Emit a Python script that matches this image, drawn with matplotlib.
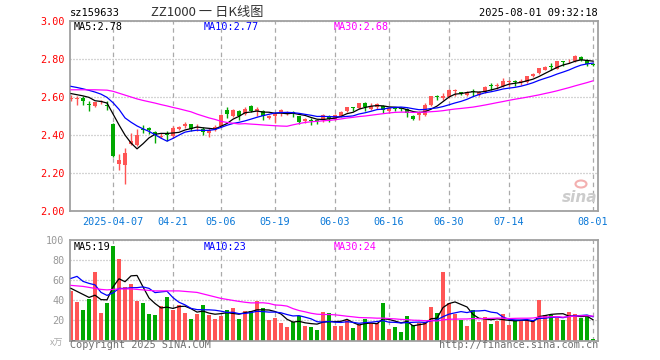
import numpy as np
import pandas as pd
import matplotlib
matplotlib.use('Agg')
import matplotlib.pyplot as plt
from matplotlib.patches import Ellipse

# daily bars, 2025-03-26 .. 2025-08-01 (88 trading days)
opens = [2.592, 2.592, 2.595, 2.562, 2.555, 2.575, 2.558, 2.460, 2.245, 2.240,
         2.355, 2.350, 2.430, 2.435, 2.415, 2.390, 2.400, 2.393, 2.432, 2.445,
         2.458, 2.435, 2.432, 2.412, 2.425, 2.445, 2.533, 2.502, 2.528, 2.512,
         2.555, 2.525, 2.525, 2.490, 2.498, 2.516, 2.510, 2.518, 2.498, 2.474,
         2.480, 2.478, 2.478, 2.502, 2.486, 2.498, 2.525, 2.545, 2.540, 2.568,
         2.538, 2.548, 2.555, 2.526, 2.542, 2.540, 2.537, 2.498, 2.504, 2.507,
         2.560, 2.602, 2.595, 2.600, 2.632, 2.622, 2.612, 2.628, 2.612, 2.625,
         2.662, 2.660, 2.656, 2.677, 2.680, 2.677, 2.679, 2.709, 2.726, 2.744,
         2.763, 2.748, 2.790, 2.787, 2.788, 2.810, 2.795, 2.775]
highs = [2.612, 2.605, 2.604, 2.577, 2.575, 2.585, 2.577, 2.465, 2.300, 2.330,
         2.410, 2.430, 2.454, 2.440, 2.420, 2.410, 2.420, 2.445, 2.445, 2.470,
         2.460, 2.460, 2.440, 2.435, 2.455, 2.510, 2.548, 2.535, 2.530, 2.545,
         2.560, 2.550, 2.530, 2.505, 2.515, 2.535, 2.525, 2.525, 2.500, 2.490,
         2.490, 2.485, 2.510, 2.505, 2.510, 2.525, 2.550, 2.548, 2.570, 2.572,
         2.568, 2.570, 2.560, 2.548, 2.550, 2.545, 2.540, 2.505, 2.525, 2.568,
         2.605, 2.612, 2.620, 2.640, 2.640, 2.628, 2.630, 2.642, 2.630, 2.658,
         2.674, 2.674, 2.700, 2.688, 2.690, 2.695, 2.710, 2.728, 2.755, 2.762,
         2.779, 2.790, 2.792, 2.800, 2.820, 2.815, 2.800, 2.780]
lows = [2.578, 2.560, 2.560, 2.525, 2.550, 2.565, 2.530, 2.286, 2.215, 2.140,
        2.345, 2.340, 2.410, 2.405, 2.360, 2.385, 2.370, 2.385, 2.428, 2.435,
        2.420, 2.420, 2.400, 2.390, 2.420, 2.440, 2.490, 2.495, 2.480, 2.505,
        2.520, 2.502, 2.480, 2.485, 2.465, 2.500, 2.505, 2.495, 2.460, 2.465,
        2.455, 2.460, 2.470, 2.470, 2.478, 2.495, 2.520, 2.525, 2.535, 2.525,
        2.533, 2.535, 2.515, 2.515, 2.525, 2.525, 2.495, 2.477, 2.477, 2.498,
        2.555, 2.585, 2.585, 2.595, 2.603, 2.610, 2.605, 2.604, 2.605, 2.620,
        2.639, 2.640, 2.652, 2.656, 2.660, 2.665, 2.675, 2.705, 2.720, 2.740,
        2.740, 2.745, 2.765, 2.780, 2.785, 2.790, 2.765, 2.765]
closes = [2.597, 2.596, 2.578, 2.559, 2.572, 2.578, 2.554, 2.291, 2.270, 2.305,
          2.370, 2.400, 2.425, 2.425, 2.398, 2.395, 2.398, 2.437, 2.442, 2.460,
          2.432, 2.440, 2.415, 2.428, 2.442, 2.505, 2.512, 2.530, 2.502, 2.537,
          2.525, 2.537, 2.502, 2.498, 2.510, 2.530, 2.520, 2.515, 2.467, 2.484,
          2.476, 2.474, 2.507, 2.485, 2.503, 2.521, 2.546, 2.542, 2.568, 2.547,
          2.555, 2.563, 2.533, 2.542, 2.539, 2.536, 2.516, 2.485, 2.515, 2.560,
          2.603, 2.598, 2.603, 2.635, 2.636, 2.619, 2.625, 2.624, 2.625, 2.653,
          2.658, 2.665, 2.682, 2.680, 2.677, 2.680, 2.709, 2.723, 2.751, 2.758,
          2.759, 2.788, 2.786, 2.792, 2.815, 2.797, 2.772, 2.768]
# volume, in 万 shares
volumes = [49, 38, 30, 41, 68, 27, 37, 94.5, 81.5, 53.3,
           56.3, 39, 37.3, 26.3, 25.7, 34, 43.3, 30.7, 35.7, 27.3,
           21.7, 26.3, 35.7, 25.7, 21.7, 24.7, 30.7, 32.3, 21.7, 29.7,
           29.7, 39.7, 32.3, 20.7, 22.3, 17.3, 13.3, 18.3, 24.7, 14.7,
           13.3, 10.7, 28.3, 27.3, 14.7, 14.7, 20.7, 12.3, 15, 21.7,
           17.3, 17.3, 37.3, 11.7, 13.3, 8.3, 24.7, 15, 17.3, 18.3,
           33.3, 27.3, 68.3, 37.3, 26.3, 20.7, 14.7, 30.7, 18.3, 23.3,
           16.3, 19.7, 26.3, 15, 20.7, 19, 20, 19, 40.7, 25.7,
           25, 22.3, 20, 28.3, 26.3, 22.3, 24.7, 1.7]

# moving averages at the left edge depend on days before the window
ma5_head = [2.618, 2.612, 2.606, 2.598]
ma10_head = [2.656, 2.650, 2.643, 2.635, 2.626, 2.615, 2.598, 2.570, 2.535]
ma30_head = [2.638, 2.638, 2.638, 2.638, 2.638, 2.637, 2.636, 2.630, 2.620, 2.610,
             2.600, 2.590, 2.582, 2.575, 2.568, 2.560, 2.553, 2.545, 2.538, 2.530,
             2.522, 2.510, 2.500, 2.490, 2.482, 2.472, 2.466, 2.462, 2.458]
vma5_head = [52, 49, 46, 43]
vma10_head = [62, 64, 59, 57, 55.5, 48, 45, 47.5, 52]
vma30_head = [55, 54.5, 54, 53, 52, 51, 50.5, 51, 51.5, 51.5,
              51.5, 51, 50.5, 50, 49.5, 49.5, 49.5, 49.5, 49.5, 49,
              48.5, 48, 46.5, 45, 43.5, 42, 41, 40, 39]

date_pos = [7, 17, 25, 34, 44, 53, 63, 73, 87]
date_labels = ['2025-04-07', '04-21', '05-06', '05-19', '06-03', '06-16', '06-30', '07-14', '08-01']
price_ticks = [2.0, 2.2, 2.4, 2.6, 2.8, 3.0]
vol_ticks = [20, 40, 60, 80, 100]
price_legend = ['MA5:2.78', 'MA10:2.77', 'MA30:2.68']
vol_legend = ['MA5:19', 'MA10:23', 'MA30:24']

RED = '#ff5555'
GREEN = '#00a800'
MA_COLORS = ['black', '#0000ff', '#ff00ff']
MONO = 'DejaVu Sans Mono'


def moving_avg(values, n, head):
    s = pd.Series(values).rolling(n).mean().to_numpy()
    s[:len(head)] = head
    return s


o = np.array(opens)
h = np.array(highs)
l = np.array(lows)
c = np.array(closes)
v = np.array(volumes)
x = np.arange(len(c))
up = c >= o
colors = np.where(up, RED, GREEN)

W, H = 660, 360
fig = plt.figure(figsize=(W / 100, H / 100), dpi=100)
fig.patch.set_facecolor('white')


def fx(px):
    return px / W


def fy(py):
    return 1 - py / H


ax = fig.add_axes([fx(70), fy(211), fx(598) - fx(70), fy(21) - fy(211)])
axv = fig.add_axes([fx(70), fy(340.5), fx(598) - fx(70), fy(240.3) - fy(340.5)])

for a in (ax, axv):
    a.set_xlim(-0.17, 87.83)
    for sp in a.spines.values():
        sp.set_color('#a0a0a0')
        sp.set_linewidth(1.3)
    a.set_xticks(date_pos)
    a.tick_params(length=0)
    a.grid(axis='x', color='#aaaaaa', linestyle=(0, (3.6, 2.9)), linewidth=0.9)
    a.grid(axis='y', color='#aaaaaa', linestyle=(0, (0.8, 1.6)), linewidth=0.9)
    a.set_axisbelow(True)

# candles
body = np.maximum(np.abs(c - o), 0.005)
ax.vlines(x, l, h, colors=colors, linewidth=1.0, zorder=2)
ax.bar(x, body, bottom=np.minimum(o, c), width=0.78, color=colors, linewidth=0, zorder=3)
price_mas = [moving_avg(c, 5, ma5_head), moving_avg(c, 10, ma10_head), moving_avg(c, 30, ma30_head)]
for m, col in zip(price_mas, MA_COLORS):
    ax.plot(x, m, color=col, linewidth=0.9, zorder=4)
ax.set_ylim(2.0, 3.0)
ax.set_yticks(price_ticks)
ax.set_yticklabels(['%.2f' % t for t in price_ticks], color='red', fontsize=7.3, family=MONO)
ax.set_xticklabels(date_labels, color='#0a78d8', fontsize=7.3, family=MONO)
ax.tick_params(axis='x', pad=4)
ax.tick_params(axis='y', pad=4)

# volume
axv.bar(x, v, width=0.82, color=colors, linewidth=0, zorder=2)
vol_mas = [moving_avg(v, 5, vma5_head), moving_avg(v, 10, vma10_head), moving_avg(v, 30, vma30_head)]
for m, col in zip(vol_mas, MA_COLORS):
    axv.plot(x, m, color=col, linewidth=0.9, zorder=3)
axv.set_ylim(0, 100)
axv.set_yticks(vol_ticks)
axv.set_yticklabels([str(t) for t in vol_ticks], color='#999999', fontsize=7.3, family=MONO)
axv.set_xticklabels([])
axv.tick_params(axis='y', pad=4)

# legends inside panels
for txt, col, px in zip(price_legend, MA_COLORS, [74, 204, 334]):
    fig.text(fx(px), fy(26.5), txt, color=col, fontsize=7.3, family=MONO, va='center')
for txt, col, px in zip(vol_legend, MA_COLORS, [74, 204, 334]):
    fig.text(fx(px), fy(246.5), txt, color=col, fontsize=7.3, family=MONO, va='center')

# header and footer
fig.text(fx(70), fy(13), 'sz159633', color='black', fontsize=7.5, family=MONO, va='center')
fig.text(fx(207), fy(12.5), 'ZZ1000 一 日K线图', color='#333333', fontsize=9.5,
         family=['Noto Sans CJK SC', 'DejaVu Sans'], va='center', ha='center')
fig.text(fx(598), fy(13), '2025-08-01 09:32:18', color='black', fontsize=7.5, family=MONO,
         va='center', ha='right')
fig.text(fx(70), fy(345.5), 'Copyright 2025 SINA.COM', color='#707070', fontsize=7.3,
         family=MONO, va='center')
fig.text(fx(598), fy(345.5), 'http://finance.sina.com.cn', color='#707070', fontsize=7.3,
         family=MONO, va='center', ha='right')
fig.text(fx(63), fy(343), 'x万', color='#aaaaaa', fontsize=6.5, style='italic',
         family=['Noto Sans CJK SC', 'DejaVu Sans'], va='center', ha='right')

# sina watermark
fig.text(fx(597), fy(197), 'sina', color='#cccccc', fontsize=11, weight='bold', style='italic',
         va='center', ha='right')
fig.patches.append(Ellipse((fx(581), fy(184)), fx(11), 7 / H, transform=fig.transFigure,
                           facecolor='none', edgecolor='#f3b0b0', linewidth=1.5))

fig.savefig('out.png', dpi=100, facecolor='white')
